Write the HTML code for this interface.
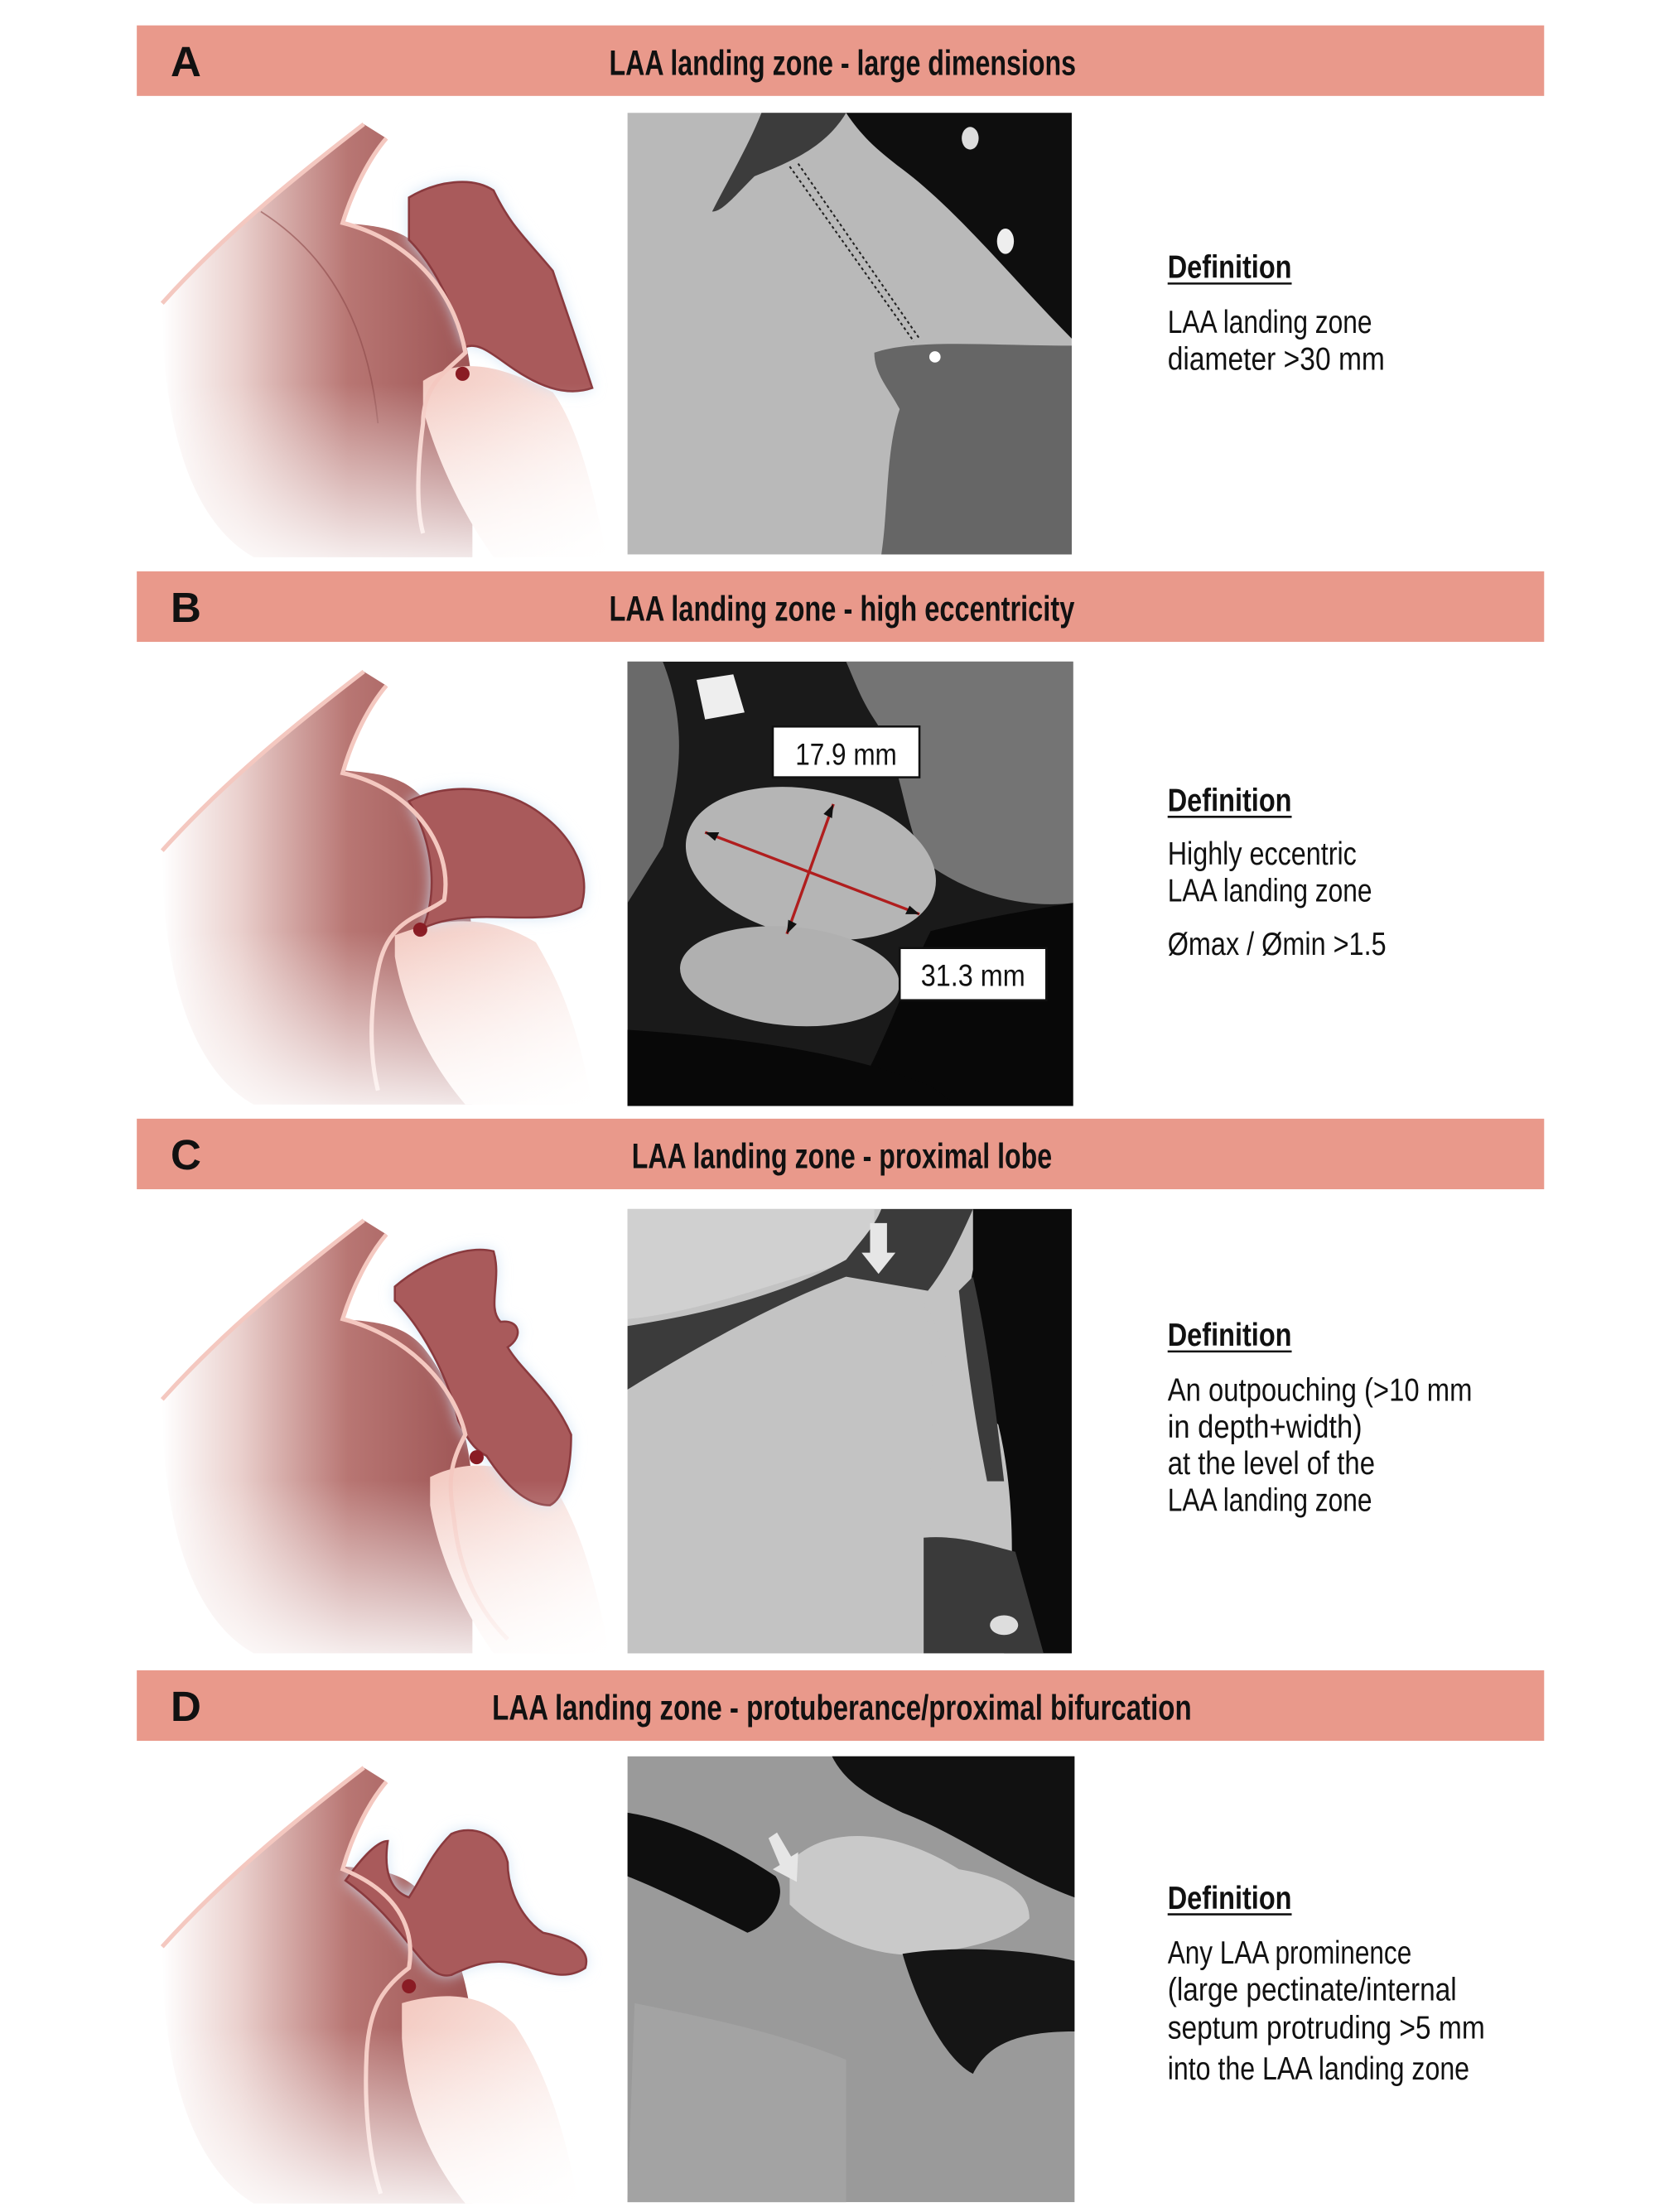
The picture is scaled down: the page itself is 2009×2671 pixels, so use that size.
<!DOCTYPE html>
<html><head><meta charset="utf-8"><style>
html,body{margin:0;padding:0;background:#fff;}
svg{display:block;}
text{font-family:"Liberation Sans Narrow","Liberation Sans",sans-serif;}
</style></head><body>
<svg width="2009" height="2671" viewBox="0 0 1180 1568" preserveAspectRatio="none" xmlns="http://www.w3.org/2000/svg">
<defs>
<linearGradient id="body" x1="0" y1="0" x2="1" y2="0">
<stop offset="0" stop-color="#ffffff"/><stop offset="0.25" stop-color="#ead0cd"/><stop offset="0.6" stop-color="#b87673"/><stop offset="1" stop-color="#9d5454"/></linearGradient>
<linearGradient id="fadeB" x1="0" y1="0" x2="0" y2="1">
<stop offset="0" stop-color="#fff" stop-opacity="0"/><stop offset="0.6" stop-color="#fff" stop-opacity="0"/><stop offset="1" stop-color="#fff" stop-opacity="0.9"/></linearGradient>
<linearGradient id="lobe" x1="0" y1="0" x2="1" y2="1">
<stop offset="0" stop-color="#f3c9c0"/><stop offset="1" stop-color="#ffffff"/></linearGradient>
<filter id="glow" x="-30%" y="-30%" width="160%" height="160%"><feGaussianBlur stdDeviation="5"/></filter>
</defs>

<!-- Banners -->
<g fill="#e9998b">
<rect x="97" y="18" width="998" height="50"/>
<rect x="97" y="405" width="998" height="50"/>
<rect x="97" y="793" width="998" height="50"/>
<rect x="97" y="1184" width="998" height="50"/>
</g>
<g font-weight="bold" fill="#111">
<text x="121" y="54" font-size="30">A</text>
<text x="121" y="441" font-size="30">B</text>
<text x="121" y="829" font-size="30">C</text>
<text x="121" y="1220" font-size="30">D</text>
<text x="432" y="53" font-size="25" textLength="331" lengthAdjust="spacingAndGlyphs">LAA landing zone - large dimensions</text>
<text x="432" y="440" font-size="25" textLength="330" lengthAdjust="spacingAndGlyphs">LAA landing zone - high eccentricity</text>
<text x="448" y="828" font-size="25" textLength="298" lengthAdjust="spacingAndGlyphs">LAA landing zone - proximal lobe</text>
<text x="349" y="1219" font-size="25" textLength="496" lengthAdjust="spacingAndGlyphs">LAA landing zone - protuberance/proximal bifurcation</text>
</g>

<!-- A -->
<g>
<path d="M115,215 C160,165 210,125 258,88 L274,98 C262,112 250,135 243,158 C262,160 285,160 300,178 C322,205 335,245 335,285 L335,395 L180,395 C135,370 115,300 115,215 Z" fill="url(#body)"/>
<path d="M300,270 C330,250 360,262 392,278 C408,300 420,340 430,395 L350,395 C325,360 308,320 300,290 Z" fill="url(#lobe)"/>
<path d="M290,140 C310,128 335,125 350,135 C362,160 372,168 392,192 C402,222 412,250 420,275 C400,282 380,272 365,262 C350,252 340,242 330,246 C322,220 310,190 290,170 Z" fill="#cfe3f5" filter="url(#glow)"/>
<path d="M290,140 C310,128 335,125 350,135 C362,160 372,168 392,192 C402,222 412,250 420,275 C400,282 380,272 365,262 C350,252 340,242 330,246 C322,220 310,190 290,170 Z" fill="#a95a5b" stroke="#8a3a3e" stroke-width="1.5"/>
<path d="M115,215 C160,165 210,125 258,88 M274,98 C262,112 250,135 243,158 C290,170 322,205 330,250 C318,262 300,272 300,300 C296,330 295,360 300,378" stroke="#f4c8c0" stroke-width="3" fill="none"/>
<path d="M185,150 C240,185 262,240 268,300" stroke="#8c4a4a" stroke-width="1" fill="none" opacity="0.6"/>
<circle cx="328" cy="265" r="5" fill="#8a1c24"/>
<rect x="100" y="80" width="340" height="320" fill="url(#fadeB)"/>
</g>
<!-- B -->
<g transform="translate(0,388)">
<path d="M115,215 C160,165 210,125 258,88 L274,98 C262,112 250,135 243,158 C262,160 285,160 300,178 C322,205 335,245 335,285 L335,395 L180,395 C135,370 115,300 115,215 Z" fill="url(#body)"/>
<path d="M280,275 C320,260 350,262 380,280 C398,310 410,340 420,395 L330,395 C300,360 285,320 280,290 Z" fill="url(#lobe)"/>
<path d="M290,180 C320,165 360,170 385,190 C405,205 420,230 412,255 C395,265 370,262 345,262 C325,262 310,265 300,270 C312,240 305,205 290,180 Z" fill="#cfe3f5" filter="url(#glow)"/>
<path d="M290,180 C320,165 360,170 385,190 C405,205 420,230 412,255 C395,265 370,262 345,262 C325,262 310,265 300,270 C312,240 305,205 290,180 Z" fill="#a95a5b" stroke="#8a3a3e" stroke-width="1.5"/>
<path d="M115,215 C160,165 210,125 258,88 M274,98 C262,112 250,135 243,160 C290,170 322,210 315,250 C300,262 275,262 268,300 C262,330 262,360 268,385" stroke="#f4c8c0" stroke-width="3" fill="none"/>
<circle cx="298" cy="271" r="5" fill="#8a1c24"/>
<rect x="100" y="80" width="340" height="320" fill="url(#fadeB)"/>
</g>
<!-- C -->
<g transform="translate(0,777)">
<path d="M115,215 C160,165 210,125 258,88 L274,98 C262,112 250,135 243,158 C262,160 285,160 300,178 C322,205 335,245 335,285 L335,395 L180,395 C135,370 115,300 115,215 Z" fill="url(#body)"/>
<path d="M305,270 C335,255 365,262 395,280 C410,305 422,340 432,395 L350,395 C325,360 310,320 305,290 Z" fill="url(#lobe)"/>
<path d="M280,135 C300,118 330,105 350,110 C356,130 345,150 355,160 C368,158 372,170 360,178 C370,195 392,210 405,240 C405,265 400,285 390,290 C370,290 355,270 345,255 C335,250 330,240 325,230 C318,200 300,165 280,145 Z" fill="#cfe3f5" filter="url(#glow)"/>
<path d="M280,135 C300,118 330,105 350,110 C356,130 345,150 355,160 C368,158 372,170 360,178 C370,195 392,210 405,240 C405,265 400,285 390,290 C370,290 355,270 345,255 C335,250 330,240 325,230 C318,200 300,165 280,145 Z" fill="#a95a5b" stroke="#8a3a3e" stroke-width="1.5"/>
<path d="M115,215 C160,165 210,125 258,88 M274,98 C262,112 250,135 243,158 C290,170 322,205 330,240 C318,262 318,275 322,300 C325,330 335,360 360,385" stroke="#f4c8c0" stroke-width="3" fill="none"/>
<circle cx="338" cy="256" r="5" fill="#8a1c24"/>
<rect x="100" y="80" width="340" height="320" fill="url(#fadeB)"/>
</g>
<!-- D -->
<g transform="translate(0,1165)">
<path d="M115,215 C160,165 210,125 258,88 L274,98 C262,112 250,135 243,158 C262,160 285,160 300,178 C322,205 335,245 335,285 L335,397 L180,397 C135,370 115,300 115,215 Z" fill="url(#body)"/>
<path d="M285,255 C320,245 345,250 365,270 C385,300 400,340 410,397 L330,397 C300,360 288,320 285,280 Z" fill="url(#lobe)"/>
<path d="M245,168 C258,150 268,140 275,140 C272,160 276,175 290,180 C300,165 305,150 320,135 C335,128 355,135 360,155 C360,175 370,195 385,205 C400,208 420,215 415,230 C400,240 385,232 370,228 C350,222 335,228 320,235 C300,240 290,200 245,168 Z" fill="#cfe3f5" filter="url(#glow)"/>
<path d="M245,168 C258,150 268,140 275,140 C272,160 276,175 290,180 C300,165 305,150 320,135 C335,128 355,135 360,155 C360,175 370,195 385,205 C400,208 420,215 415,230 C400,240 385,232 370,228 C350,222 335,228 320,235 C300,240 290,200 245,168 Z" fill="#a95a5b" stroke="#8a3a3e" stroke-width="1.5"/>
<path d="M115,215 C160,165 210,125 258,88 M274,98 C262,112 250,135 243,160 C280,175 295,200 290,230 C270,245 262,260 260,290 C258,330 262,365 270,390" stroke="#f4c8c0" stroke-width="3" fill="none"/>
<circle cx="290" cy="243" r="5" fill="#8a1c24"/>
<rect x="100" y="80" width="340" height="320" fill="url(#fadeB)"/>
</g>

<!-- CT A -->
<g>
<rect x="445" y="80" width="315" height="313" fill="#b9b9b9"/>
<path d="M600,80 L760,80 L760,240 C720,200 680,150 640,120 C620,105 610,95 600,80 Z" fill="#0e0e0e"/>
<path d="M540,80 L600,80 C585,105 560,115 535,125 C520,140 512,150 505,150 C515,130 530,105 540,80 Z" fill="#3c3c3c"/>
<path d="M620,250 C650,240 700,245 760,245 L760,393 L625,393 C630,360 628,320 638,290 C630,275 620,265 620,250 Z" fill="#666"/>
<ellipse cx="688" cy="98" rx="6" ry="8" fill="#ddd"/>
<ellipse cx="713" cy="171" rx="6" ry="9" fill="#eee"/>
<circle cx="663" cy="253" r="4" fill="#fff"/>
<path d="M560,118 L648,242 M566,116 L652,240" stroke="#222" stroke-width="1.2" stroke-dasharray="2,2"/>
</g>
<!-- CT B -->
<g>
<rect x="445" y="469" width="316" height="315" fill="#1a1a1a"/>
<path d="M600,469 L761,469 L761,640 C720,645 680,630 655,610 C640,580 640,540 620,510 C610,495 605,480 600,469 Z" fill="#747474"/>
<path d="M445,469 L470,469 C490,520 480,560 470,600 L445,640 Z" fill="#6a6a6a"/>
<ellipse cx="575" cy="612" rx="90" ry="52" transform="rotate(12 575 612)" fill="#b5b5b5"/>
<ellipse cx="560" cy="692" rx="78" ry="35" transform="rotate(5 560 692)" fill="#b0b0b0"/>
<path d="M660,660 C700,650 730,645 761,640 L761,784 L600,784 C620,760 640,700 660,660 Z" fill="#080808"/>
<path d="M445,730 C520,735 600,745 660,770 L680,784 L445,784 Z" fill="#080808"/>
<path d="M494,482 L520,478 L528,505 L500,510 Z" fill="#eee"/>
<line x1="500" y1="590" x2="652" y2="648" stroke="#b01e1e" stroke-width="2"/>
<line x1="591" y1="570" x2="558" y2="662" stroke="#b01e1e" stroke-width="2"/>
<path d="M500,590 l10,0 l-3,6 Z M652,648 l-10,0 l3,-6 Z M591,570 l-1,10 l-6,-3 Z M558,662 l1,-10 l6,3 Z" fill="#111"/>
<rect x="548" y="515" width="104" height="36" fill="#fff" stroke="#111" stroke-width="1.5"/>
<rect x="638" y="672" width="104" height="37" fill="#fff" stroke="#111" stroke-width="1.5"/>
<text x="600" y="542" font-size="22" text-anchor="middle" fill="#111" textLength="72" lengthAdjust="spacingAndGlyphs">17.9 mm</text>
<text x="690" y="699" font-size="22" text-anchor="middle" fill="#111" textLength="74" lengthAdjust="spacingAndGlyphs">31.3 mm</text>
</g>
<!-- CT C -->
<g>
<rect x="445" y="857" width="315" height="315" fill="#c3c3c3"/>
<path d="M445,857 L620,857 L620,890 C560,905 500,930 445,935 Z" fill="#d0d0d0"/>
<path d="M445,940 C510,930 560,915 600,893 C610,880 620,870 625,857 L690,857 C680,880 670,900 658,915 L600,905 C560,920 510,945 445,985 Z" fill="#3b3b3b"/>
<path d="M690,857 L760,857 L760,1172 L712,1172 C720,1120 720,1060 708,1010 C690,990 680,950 690,900 Z" fill="#0b0b0b"/>
<path d="M655,920 C670,950 670,980 690,985 L700,1000 C680,1005 675,1010 700,1020 L712,1050 L712,1100 C690,1090 670,1085 655,1090 C660,1050 665,1000 658,940 Z" fill="#c3c3c3"/>
<path d="M690,905 C700,950 705,990 712,1050 L700,1050 C690,1000 685,960 680,915 Z" fill="#3b3b3b"/>
<path d="M655,1090 C680,1088 700,1095 720,1100 L740,1172 L655,1172 Z" fill="#3a3a3a"/>
<ellipse cx="712" cy="1152" rx="10" ry="7" fill="#ddd"/>
<path d="M617,867 L629,867 L629,888 L635,888 L623,903 L611,888 L617,888 Z" fill="#e6e6e6"/>
</g>
<!-- CT D -->
<g>
<rect x="445" y="1245" width="317" height="316" fill="#9a9a9a"/>
<path d="M590,1245 L762,1245 L762,1345 C720,1330 680,1300 640,1285 C620,1275 600,1265 590,1245 Z" fill="#111"/>
<path d="M445,1285 C480,1290 520,1310 550,1330 C560,1345 545,1365 530,1370 C500,1355 470,1340 445,1330 Z" fill="#0f0f0f"/>
<path d="M560,1320 C590,1290 640,1300 680,1325 C710,1330 730,1340 730,1360 C715,1375 690,1380 660,1385 C620,1390 580,1370 560,1350 Z" fill="#c9c9c9"/>
<path d="M640,1385 C670,1380 720,1380 762,1390 L762,1440 C720,1440 700,1450 690,1470 C670,1460 650,1420 640,1385 Z" fill="#151515"/>
<path d="M450,1420 C500,1430 550,1440 600,1460 L600,1561 L445,1561 Z" fill="#a3a3a3"/>
<path d="M545,1303 L551,1299 L561,1316 L566,1313 L565,1334 L548,1325 L553,1322 Z" fill="#e6e6e6"/>
</g>

<!-- Definitions -->
<g fill="#111">
<g font-weight="bold" font-size="23">
<text x="828" y="197" textLength="88" lengthAdjust="spacingAndGlyphs">Definition</text>
<text x="828" y="575" textLength="88" lengthAdjust="spacingAndGlyphs">Definition</text>
<text x="828" y="954" textLength="88" lengthAdjust="spacingAndGlyphs">Definition</text>
<text x="828" y="1353" textLength="88" lengthAdjust="spacingAndGlyphs">Definition</text>
</g>
<g stroke="#111" stroke-width="1.5">
<line x1="828" y1="201" x2="916" y2="201"/><line x1="828" y1="579" x2="916" y2="579"/>
<line x1="828" y1="958" x2="916" y2="958"/><line x1="828" y1="1357" x2="916" y2="1357"/>
</g>
<g font-size="23">
<text x="828" y="236" textLength="145" lengthAdjust="spacingAndGlyphs">LAA landing zone</text>
<text x="828" y="262" textLength="154" lengthAdjust="spacingAndGlyphs">diameter &gt;30 mm</text>
<text x="828" y="613" textLength="134" lengthAdjust="spacingAndGlyphs">Highly eccentric</text>
<text x="828" y="639" textLength="145" lengthAdjust="spacingAndGlyphs">LAA landing zone</text>
<text x="828" y="677" textLength="155" lengthAdjust="spacingAndGlyphs">Ømax / Ømin &gt;1.5</text>
<text x="828" y="993" textLength="216" lengthAdjust="spacingAndGlyphs">An outpouching (&gt;10 mm</text>
<text x="828" y="1019" textLength="138" lengthAdjust="spacingAndGlyphs">in depth+width)</text>
<text x="828" y="1045" textLength="147" lengthAdjust="spacingAndGlyphs">at the level of the</text>
<text x="828" y="1071" textLength="145" lengthAdjust="spacingAndGlyphs">LAA landing zone</text>
<text x="828" y="1392" textLength="173" lengthAdjust="spacingAndGlyphs">Any LAA prominence</text>
<text x="828" y="1418" textLength="205" lengthAdjust="spacingAndGlyphs">(large pectinate/internal</text>
<text x="828" y="1445" textLength="225" lengthAdjust="spacingAndGlyphs">septum protruding &gt;5 mm</text>
<text x="828" y="1474" textLength="214" lengthAdjust="spacingAndGlyphs">into the LAA landing zone</text>
</g>
</g>
</svg>
</body></html>
